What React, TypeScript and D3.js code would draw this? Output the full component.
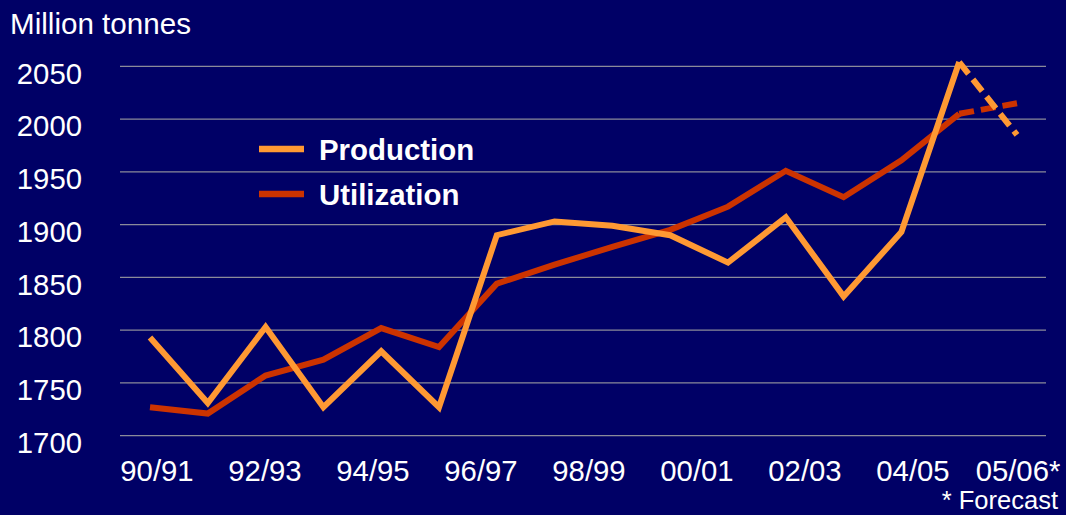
import React from "react";
import * as d3 from "d3";

const categories = ["90/91","91/92","92/93","93/94","94/95","95/96","96/97","97/98","98/99","99/00","00/01","01/02","02/03","03/04","04/05","05/06"];
const production = [1793,1731,1803,1727,1780,1727,1890,1903,1899,1890,1864,1907,1832,1893,2054,1985];
const utilization = [1727,1721,1757,1772,1802,1784,1844,1862,1879,1895,1917,1951,1926,1961,2005,2015];
const forecastFrom = 14; // index where forecast (dashed) begins
const yTicks = [1700,1750,1800,1850,1900,1950,2000,2050];
const xTickLabels = ["90/91","92/93","94/95","96/97","98/99","00/01","02/03","04/05"];
const lastTickLabel = "05/06*";

const W = 1066, H = 515;
const BG = "#000066";
const ORANGE = "#FF9933";
const RED = "#CC3300";
const FONT = "'Liberation Sans', Arial, Helvetica, sans-serif";

export default function App() {
  const x = d3.scalePoint<string>().domain(categories).range([150, 1017]);
  const y = d3.scaleLinear().domain([1700, 2050]).range([435.7, 66.3]);
  const xl = d3.scalePoint<string>().domain(xTickLabels).range([157, 913]);

  const line = d3.line<number>()
    .x((_, i) => x(categories[i]) as number)
    .y((d) => y(d));

  const solidPart = (arr: number[]) =>
    line.defined((_, i) => i <= forecastFrom)(arr) || "";
  const dashPart = (arr: number[]) =>
    line.defined((_, i) => i >= forecastFrom)(arr) || "";

  const series = [
    { name: "Utilization", data: utilization, color: RED },
    { name: "Production", data: production, color: ORANGE },
  ];
  const legend = [
    { name: "Production", color: ORANGE },
    { name: "Utilization", color: RED },
  ];

  return (
    <svg width={W} height={H} style={{ position: "fixed", left: 0, top: 0, display: "block" }}
      fontFamily={FONT}>
      <rect x={0} y={0} width={W} height={H} fill={BG} />
      <text x={10} y={34} fill="#fff" fontSize={29.6}>Million tonnes</text>
      {yTicks.map((t) => (
        <g key={t}>
          <line x1={120} x2={1046} y1={y(t)} y2={y(t)} stroke="#8a8a9a" strokeWidth={1.3} />
          <text x={82} y={y(t) + 17.3} fill="#fff" fontSize={29.3} textAnchor="end">{t}</text>
        </g>
      ))}
      {xTickLabels.map((l) => (
        <text key={l} x={xl(l)} y={481} fill="#fff" fontSize={29.3} textAnchor="middle">{l}</text>
      ))}
      <text x={(x(categories[categories.length - 1]) as number) + 1} y={481} fill="#fff" fontSize={29.3} textAnchor="middle">{lastTickLabel}</text>
      <text x={1058} y={509} fill="#fff" fontSize={25.5} textAnchor="end">* Forecast</text>
      {series.map((s) => (
        <g key={s.name}>
          <path d={solidPart(s.data)} fill="none" stroke={s.color} strokeWidth={6} strokeLinejoin="miter" />
          <path d={dashPart(s.data)} fill="none" stroke={s.color} strokeWidth={6} strokeDasharray="15 7" />
        </g>
      ))}
      {legend.map((s, i) => (
        <g key={s.name}>
          <line x1={259} x2={304} y1={149 + i * 45} y2={149 + i * 45} stroke={s.color} strokeWidth={6.5} />
          <text x={319} y={160 + i * 45} fill="#fff" fontSize={29.4} fontWeight="bold">{s.name}</text>
        </g>
      ))}
    </svg>
  );
}
